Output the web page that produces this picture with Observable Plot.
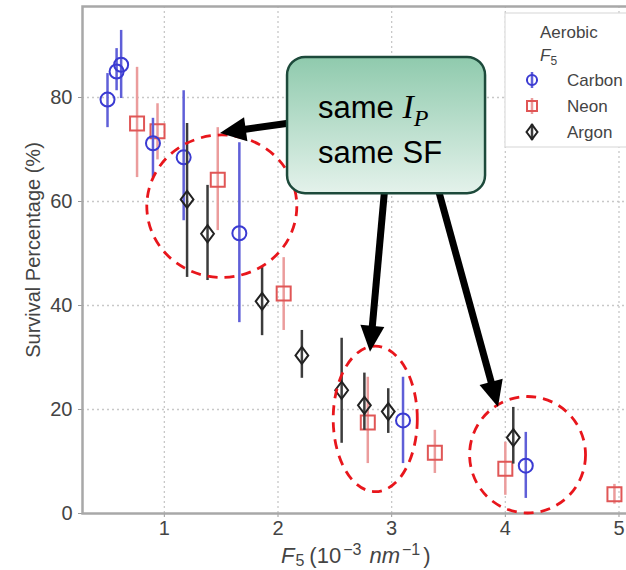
<!DOCTYPE html>
<html><head><meta charset="utf-8">
<script src="https://cdn.jsdelivr.net/npm/d3@7"></script>
<script src="https://cdn.jsdelivr.net/npm/@observablehq/plot@0.6"></script>
<style>body{margin:0;background:#fff} #chart svg{display:block}</style>
</head><body><div id="chart"></div>
<script>
// ---- data (F5 in 1e-3 nm^-1, survival %) ----
const carbonX  = [0.50, 0.58, 0.62, 0.90, 1.17, 1.66, 3.10, 4.18];
const carbonY  = [79.6, 85.0, 86.3, 71.2, 68.5, 53.9, 17.9, 9.2];
const carbonLo = [74.2, 81.3, 79.8, 64.6, 56.3, 36.7, 9.6, 2.9];
const carbonHi = [84.6, 89.4, 92.9, 76.0, 81.3, 71.3, 26.2, 15.6];

const neonX  = [0.76, 0.94, 1.47, 2.05, 2.79, 3.38, 4.00, 4.96];
const neonY  = [75.0, 73.5, 64.2, 42.3, 17.5, 11.7, 8.6, 3.7];
const neonLo = [64.6, 68.0, 54.4, 35.2, 9.6, 7.7, 3.5, 1.8];
const neonHi = [85.8, 78.8, 74.2, 49.2, 26.2, 16.0, 13.7, 5.6];

const argonX  = [1.20, 1.38, 1.86, 2.21, 2.56, 2.76, 2.97, 4.07];
const argonY  = [60.4, 53.8, 40.8, 30.4, 23.7, 20.8, 19.6, 14.6];
const argonLo = [45.4, 44.8, 34.2, 26.0, 13.5, 16.0, 15.4, 9.5];
const argonHi = [75.0, 63.1, 47.3, 35.2, 33.7, 27.0, 24.0, 20.4];

const seriesNames = ["Carbon", "Neon", "Argon"];
const xTicks = [1, 2, 3, 4, 5];
const yTicks = [0, 20, 40, 60, 80];

// ---- annotations (data coordinates) ----
const ellipseCX = [1.51, 2.86, 4.20];
const ellipseCY = [59.0, 18.1, 11.2];
const ellipseRX = [0.66, 0.37, 0.51];
const ellipseRY = [13.7, 14.0, 11.2];
const boxX = [2.084, 3.826];
const boxY = [87.7, 61.5];
const arrowFromX = [2.11, 2.946, 3.403];
const arrowFromY = [75.0, 63.1, 63.1];
const arrowToX = [1.494, 2.814, 3.94];
const arrowToY = [73.1, 31.0, 20.4];

const rows = (x, y, lo, hi, s) => x.map((v, i) => ({x: v, y: y[i], lo: lo[i], hi: hi[i], s}));
const carbon = rows(carbonX, carbonY, carbonLo, carbonHi, "Carbon");
const neon = rows(neonX, neonY, neonLo, neonHi, "Neon");
const argon = rows(argonX, argonY, argonLo, argonHi, "Argon");

const C = {
  Carbon: {mark: "#3a3ad2", bar: "#5f5fd8"},
  Neon: {mark: "#e05656", bar: "#eb9c9c"},
  Argon: {mark: "#222222", bar: "#3c3c3c"}
};

// thin diamond symbol (width/height = 0.75)
const thinDiamond = {
  draw(ctx, size) {
    const b = Math.sqrt(size / 1.5), a = 0.75 * b;
    ctx.moveTo(0, -b); ctx.lineTo(a, 0); ctx.lineTo(0, b); ctx.lineTo(-a, 0); ctx.closePath();
  }
};

const plot = Plot.plot({
  width: 626, height: 570,
  marginLeft: 82, marginRight: -30, marginTop: 6, marginBottom: 57,
  style: {fontFamily: "'Liberation Sans', Arial, sans-serif", fontSize: "20px", background: "white", color: "#444"},
  x: {domain: [0.28, 5.33], ticks: xTicks, label: null},
  y: {domain: [0, 97.5], ticks: yTicks, label: null},
  marks: [
    Plot.gridX(xTicks, {stroke: "#c8c8c8", strokeOpacity: 1, strokeDasharray: "2,3", strokeWidth: 1.3}),
    Plot.gridY(yTicks.filter(t => t > 0), {stroke: "#c8c8c8", strokeOpacity: 1, strokeDasharray: "2,3", strokeWidth: 1.3}),
    Plot.axisX({ticks: xTicks, tickSize: 4, tickPadding: 3, stroke: "#999", fill: "#444", label: null, tickFormat: d => String(d)}),
    Plot.axisY({ticks: yTicks, tickSize: 4, tickPadding: 6, stroke: "#999", fill: "#444", label: null}),
    Plot.frame({stroke: "#a8a8a8", strokeWidth: 2.5}),
    Plot.ruleX(neon, {x: "x", y1: "lo", y2: "hi", stroke: C.Neon.bar, strokeWidth: 2.5}),
    Plot.dot(neon, {x: "x", y: "y", symbol: "square", r: 7.9, stroke: C.Neon.mark, strokeWidth: 2, fill: "none"}),
    Plot.ruleX(carbon, {x: "x", y1: "lo", y2: "hi", stroke: C.Carbon.bar, strokeWidth: 2.5}),
    Plot.dot(carbon, {x: "x", y: "y", symbol: "circle", r: 7, stroke: C.Carbon.mark, strokeWidth: 2, fill: "none"}),
    Plot.ruleX(argon, {x: "x", y1: "lo", y2: "hi", stroke: C.Argon.bar, strokeWidth: 2.5}),
    Plot.dot(argon, {x: "x", y: "y", symbol: thinDiamond, r: 5.9, stroke: C.Argon.mark, strokeWidth: 2, fill: "none"})
  ]
});
document.getElementById("chart").appendChild(plot);

const sx = plot.scale("x"), sy = plot.scale("y");
const X = v => sx.apply(v), Y = v => sy.apply(v);
const svg = d3.select(plot);
const FONT = "'Liberation Sans', Arial, sans-serif";
const SERIF = "'Liberation Serif', 'DejaVu Serif', serif";

// axis titles
svg.append("text")
  .attr("transform", "translate(33,250) rotate(-90)")
  .attr("text-anchor", "middle").attr("dy", "0.35em")
  .attr("font-family", FONT).attr("font-size", 20).attr("fill", "#444")
  .text("Survival Percentage (%)");

const xl = svg.append("text").attr("x", 281).attr("y", 563)
  .attr("text-anchor", "start").attr("font-family", FONT).attr("font-size", 22).attr("fill", "#444");
xl.append("tspan").attr("font-style", "italic").text("F");
xl.append("tspan").attr("font-size", 16).attr("dy", 3).attr("dx", 1).text("5");
xl.append("tspan").attr("dy", -3).attr("dx", 5).text("(10");
xl.append("tspan").attr("font-size", 16).attr("dy", -8).attr("dx", 2).text("−3");
xl.append("tspan").attr("dy", 8).attr("dx", 8).attr("font-style", "italic").text("nm");
xl.append("tspan").attr("font-size", 16).attr("dy", -8).attr("dx", 2).text("−1");
xl.append("tspan").attr("dy", 8).attr("dx", 3).text(")");

// dashed ellipses
ellipseCX.forEach((cx, i) => {
  svg.append("ellipse")
    .attr("cx", X(cx)).attr("cy", Y(ellipseCY[i]))
    .attr("rx", X(cx + ellipseRX[i]) - X(cx)).attr("ry", Y(ellipseCY[i] - ellipseRY[i]) - Y(ellipseCY[i]))
    .attr("fill", "none").attr("stroke", "#e8161c").attr("stroke-width", 2.8).attr("stroke-dasharray", "10,7");
});

// arrows
arrowFromX.forEach((fx, i) => {
  const x1 = X(fx), y1 = Y(arrowFromY[i]), x2 = X(arrowToX[i]), y2 = Y(arrowToY[i]);
  const dx = x2 - x1, dy = y2 - y1, L = Math.hypot(dx, dy), ux = dx / L, uy = dy / L;
  const hl = 26, hw = 12;
  const bx = x2 - ux * hl, by = y2 - uy * hl;
  svg.append("line").attr("x1", x1).attr("y1", y1).attr("x2", bx + ux * 2).attr("y2", by + uy * 2)
    .attr("stroke", "#000").attr("stroke-width", 7);
  svg.append("polygon")
    .attr("points", [[x2, y2], [bx - uy * hw, by + ux * hw], [bx + uy * hw, by - ux * hw]].map(p => p.join(",")).join(" "))
    .attr("fill", "#000");
});

// green box
const defs = svg.append("defs");
const g = defs.append("linearGradient").attr("id", "boxgrad").attr("x1", 0).attr("y1", 0).attr("x2", 0).attr("y2", 1);
g.append("stop").attr("offset", "0%").attr("stop-color", "#8fcaad");
g.append("stop").attr("offset", "100%").attr("stop-color", "#e4f2eb");
const bx0 = X(boxX[0]), bx1 = X(boxX[1]), by0 = Y(boxY[0]), by1 = Y(boxY[1]);
svg.append("rect").attr("x", bx0).attr("y", by0).attr("width", bx1 - bx0).attr("height", by1 - by0)
  .attr("rx", 18).attr("fill", "url(#boxgrad)").attr("stroke", "#1d4a3b").attr("stroke-width", 2.5);
const t1 = svg.append("text").attr("x", bx0 + 31).attr("y", by0 + 61).attr("text-anchor", "start")
  .attr("font-family", FONT).attr("font-size", 31).attr("fill", "#000");
t1.append("tspan").text("same ");
t1.append("tspan").attr("font-family", SERIF).attr("font-style", "italic").attr("font-size", 34).text("I");
t1.append("tspan").attr("font-family", SERIF).attr("font-style", "italic").attr("font-size", 24).attr("dy", 8).text("P");
svg.append("text").attr("x", bx0 + 31).attr("y", by0 + 106).attr("text-anchor", "start")
  .attr("font-family", FONT).attr("font-size", 31).attr("fill", "#000").text("same SF");

// legend
const lg = svg.append("g").attr("text-anchor", "start");
lg.append("rect").attr("x", 505).attr("y", 13).attr("width", 140).attr("height", 134)
  .attr("fill", "white").attr("stroke", "#dcdcdc").attr("stroke-width", 1.2);
lg.append("text").attr("x", 540).attr("y", 38).attr("font-family", FONT).attr("font-size", 17).attr("fill", "#444").text("Aerobic");
const lt = lg.append("text").attr("x", 540).attr("y", 61).attr("font-family", FONT).attr("font-size", 17).attr("fill", "#444");
lt.append("tspan").attr("font-style", "italic").text("F");
lt.append("tspan").attr("font-size", 12).attr("dy", 4).text("5");
const symMap = {Carbon: d3.symbolCircle, Neon: d3.symbolSquare, Argon: thinDiamond};
const symSize = {Carbon: 80, Neon: 100, Argon: 80};
seriesNames.forEach((s, i) => {
  const yy = 80 + i * 26;
  lg.append("line").attr("x1", 532).attr("x2", 532).attr("y1", yy - 8).attr("y2", yy + 8)
    .attr("stroke", C[s].bar).attr("stroke-width", 2.5);
  lg.append("path").attr("d", d3.symbol(symMap[s], symSize[s])()).attr("transform", `translate(532,${yy})`)
    .attr("fill", "none").attr("stroke", C[s].mark).attr("stroke-width", 2);
  lg.append("text").attr("x", 567).attr("y", yy + 6).attr("font-family", FONT).attr("font-size", 17).attr("fill", "#444").text(s);
});
</script>
</body></html>
